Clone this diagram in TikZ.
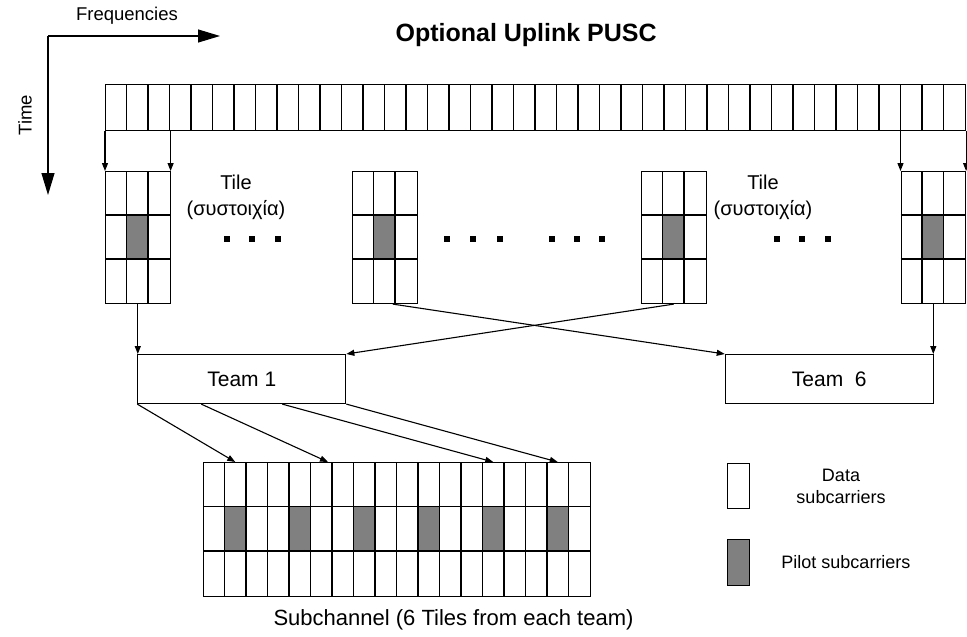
\documentclass[tikz,border=0pt]{standalone}
\usepackage{fontspec}
\setmainfont{Liberation Sans}
\usetikzlibrary{arrows.meta,calc}
\definecolor{pilotgray}{HTML}{808080}

\begin{document}
\begin{tikzpicture}[x=1pt,y=-1pt,line width=1.1pt,>={Triangle[length=8pt,width=6pt]},
    grid/.style={draw,inner sep=0pt,anchor=north west},
    team/.style={draw,inner sep=0pt,minimum width=208pt,minimum height=49pt,anchor=north west,font=\fontsize{21}{25}\selectfont},
    axis/.style={-{Triangle[length=22pt,width=13pt]}}]
    \useasboundingbox (0,0) rectangle (967,637);

    % axes
    \coordinate (origin) at (48,36);
    \coordinate (freqend) at (220,36);
    \coordinate (timeend) at (48,195);
    \draw [axis] (origin) -- (freqend);
    \draw [axis] (origin) -- (timeend);
    \node (freq) at (127,16) [font=\fontsize{18.5}{22}\selectfont] {Frequencies};
    \node (time) at (25,115) [rotate=90,font=\fontsize{18.5}{22}\selectfont] {Time};
    \node (title) at (395,35) [anchor=west,inner sep=0pt,font=\bfseries\fontsize{25}{29}\selectfont] {Optional Uplink PUSC};

    % frequency band
    \node (band) at (105,84) [grid,minimum width=860pt,minimum height=46pt] {};
    \foreach \i in {1,...,39}
        \draw ($(band.north west)+(\i*21.5,0)$) -- +(0,46);

    % tiles
    \foreach \t/\x in {tile1/105,tile2/352,tile3/641,tile4/900.5} {
        \node (\t) at (\x,171) [grid,minimum width=64.5pt,minimum height=132pt] {};
        \fill [pilotgray] ($(\t.north west)+(21.5,44)$) rectangle +(21.5,44);
        \draw ($(\t.north west)+(21.5,0)$) -- +(0,132)
              ($(\t.north west)+(43,0)$) -- +(0,132)
              ($(\t.north west)+(0,44)$) -- +(64.5,0)
              ($(\t.north west)+(0,88)$) -- +(64.5,0);
    }
    \draw [->] (tile1.north west |- band.south) -- (tile1.north west);
    \draw [->] (tile1.north east |- band.south) -- (tile1.north east);
    \draw [->] (tile4.north west |- band.south) -- (tile4.north west);
    \draw [->] (tile4.north east |- band.south) -- (tile4.north east);

    % dots between tiles
    \foreach \x in {227,252,278,447,473,500,552,577,602,777,802,828}
        \fill (\x,239) +(-2.8,-2.8) rectangle +(2.8,2.8);

    \node (tilelbl1) at (236,197) [align=center,font=\fontsize{20}{26}\selectfont] {Tile\\(συστοιχία)};
    \node (tilelbl2) at (763,197) [align=center,font=\fontsize{20}{26}\selectfont] {Tile\\(συστοιχία)};

    % teams
    \node (team1) at (137.25,354) [team] {Team 1};
    \node (team6) at (724.75,354) [team] {Team~~6};
    \draw [->] (tile1.south) -- (tile1.south |- team1.north);
    \draw [->] (tile4.south) -- (tile4.south |- team6.north);
    \draw [->] ([xshift=8pt]tile2.south) -- (team6.north west);
    \draw [->] (tile3.south) -- (team1.north east);

    % subchannel
    \node (sub) at (203,462) [grid,minimum width=387pt,minimum height=133.5pt] {};
    \foreach \i in {1,4,...,16}
        \fill [pilotgray] ($(sub.north west)+(\i*21.5,44.5)$) rectangle +(21.5,44.5);
    \foreach \i in {1,...,17}
        \draw ($(sub.north west)+(\i*21.5,0)$) -- +(0,133.5);
    \draw ($(sub.north west)+(0,44.5)$) -- +(387,0)
          ($(sub.north west)+(0,89)$) -- +(387,0);
    \draw [->] (team1.south west) -- ($(sub.north west)+(32.25,0)$);
    \draw [->] ($(team1.south west)+(64,0)$) -- ($(sub.north west)+(125,0)$);
    \draw [->] ($(team1.south west)+(145,0)$) -- ($(sub.north west)+(290.25,0)$);
    \draw [->] (team1.south east) -- ($(sub.north west)+(354.75,0)$);
    \node (subtext) at (273,620) [anchor=west,inner sep=0pt,font=\fontsize{22}{26}\selectfont] {Subchannel (6 Tiles from each team)};

    % legend
    \node (datakey) at (727,463) [grid,minimum width=22pt,minimum height=45pt] {};
    \node (pilotkey) at (727,539) [grid,fill=pilotgray,minimum width=22pt,minimum height=46pt] {};
    \node (datatext) at (841,486) [align=center,font=\fontsize{18}{22}\selectfont] {Data\\subcarriers};
    \node (pilottext) at (846,562) [font=\fontsize{18}{22}\selectfont] {Pilot subcarriers};
\end{tikzpicture}
\end{document}
